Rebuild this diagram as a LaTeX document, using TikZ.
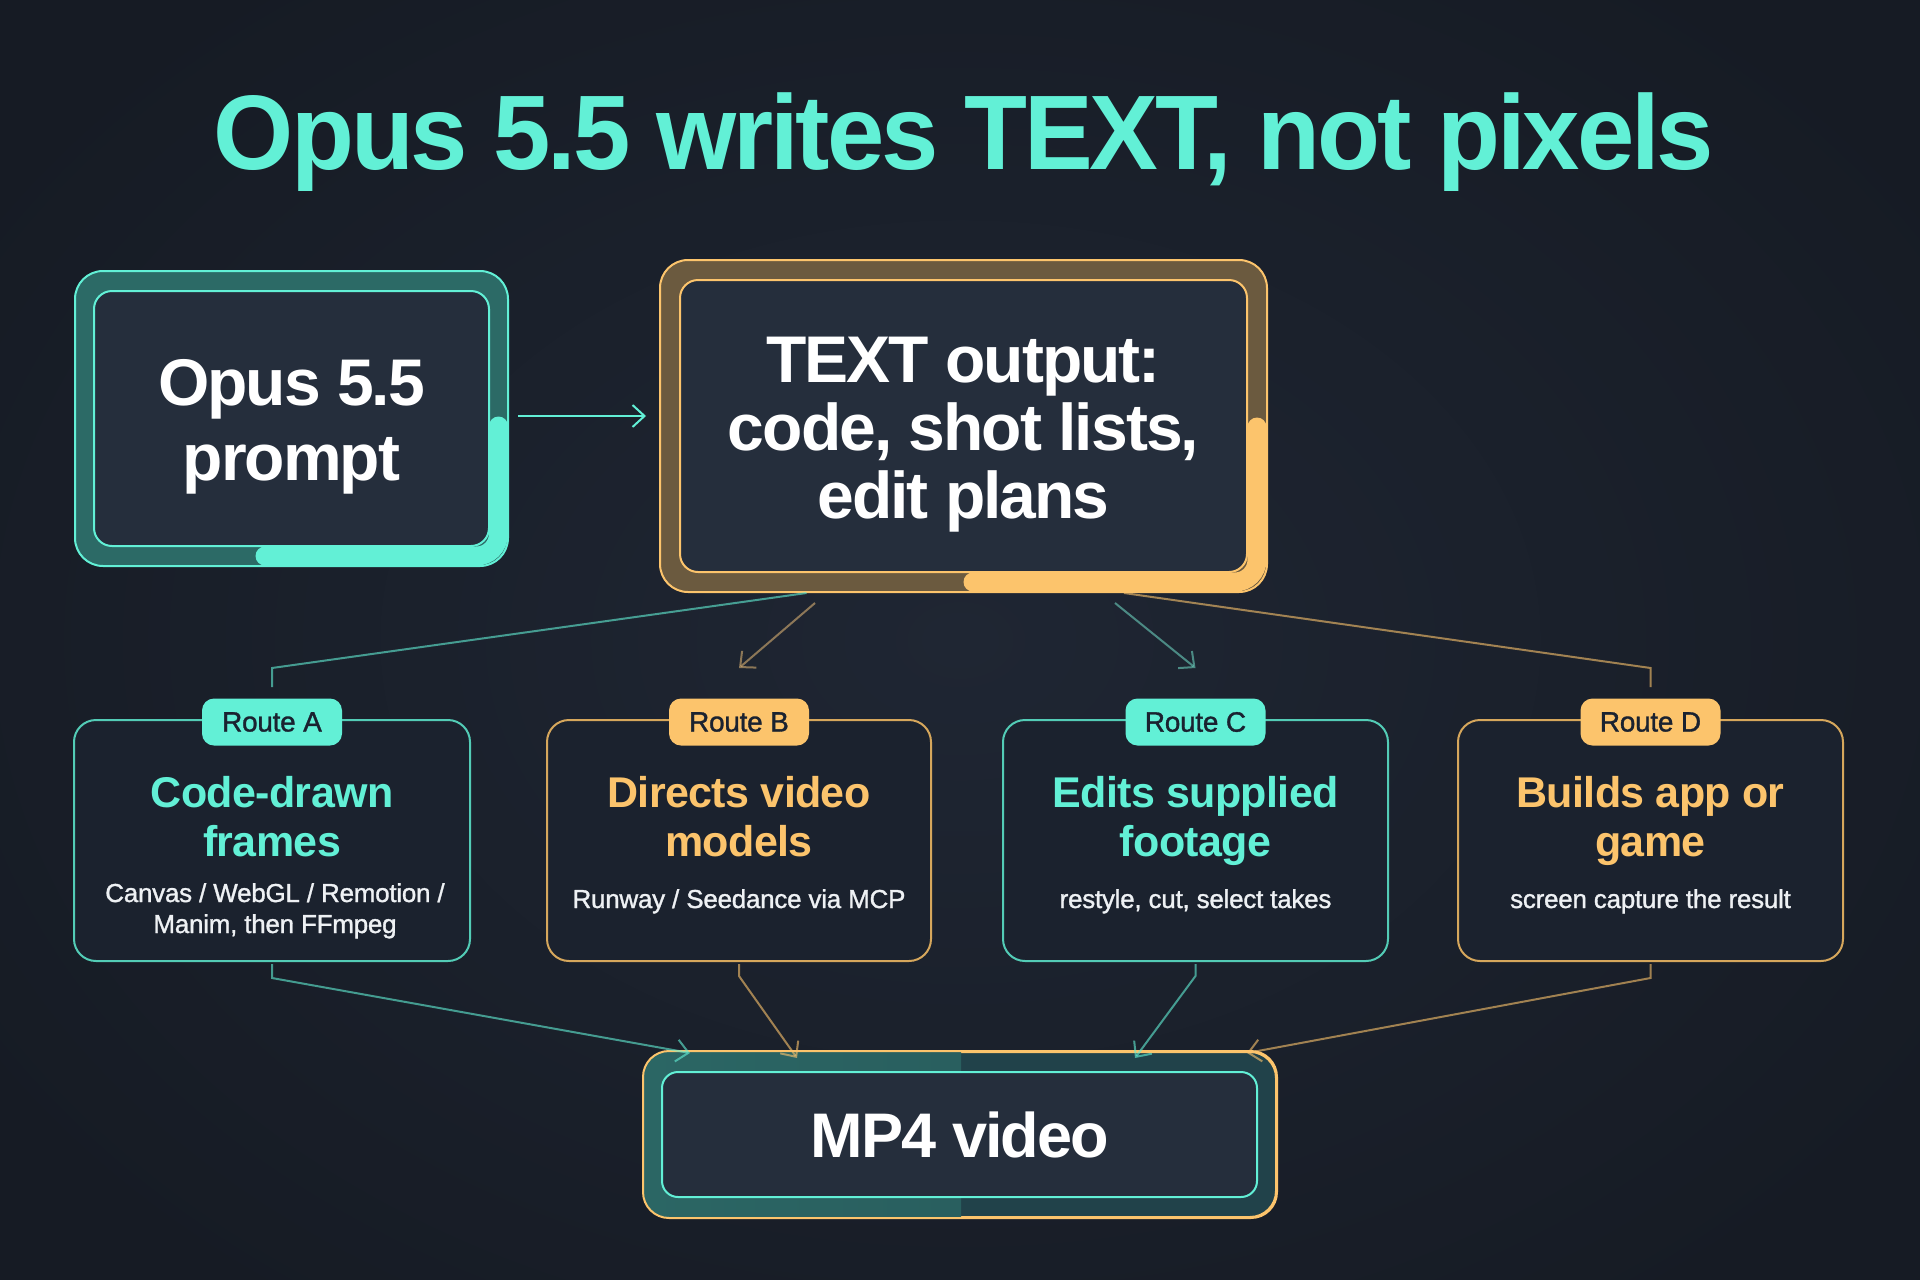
\documentclass[tikz,border=0pt]{standalone}
\usepackage{fontspec}
\usepackage{graphicx}
\setmainfont{Liberation Sans}
\newfontfamily\tightf{Liberation Sans}[LetterSpace=-3]
\newfontfamily\titlefam{Liberation Sans}[LetterSpace=-3]
\newfontfamily\headfam{Liberation Sans}[LetterSpace=-1.5]
\newfontfamily\medfam{Liberation Sans}[FakeBold=1.2,LetterSpace=-1]
\usetikzlibrary{arrows.meta,calc}
\definecolor{bgin}{HTML}{1F2633}
\definecolor{bgout}{HTML}{161B24}
\definecolor{tealc}{HTML}{62F0D6}
\definecolor{amberc}{HTML}{FCC46C}
\definecolor{tealband}{HTML}{2C6A66}
\definecolor{amberband}{HTML}{6B5A3F}
\definecolor{boxfill}{HTML}{252E3C}
\definecolor{routefill}{HTML}{1B222E}
\definecolor{tagtext}{HTML}{1A2230}
\definecolor{subc}{HTML}{EEF1F4}
\definecolor{mp4dark}{HTML}{21424A}
\definecolor{mp4light}{HTML}{2B6664}
\newcommand\titlefont{\titlefam\bfseries\fontsize{106}{110}\selectfont}
\newcommand\bigfont{\tightf\bfseries\fontsize{66}{70}\selectfont}
\newcommand\headfont{\headfam\bfseries\fontsize{43}{48}\selectfont}
\newcommand\subfont{\medfam\fontsize{26}{30}\selectfont}
\newcommand\tagfont{\medfam\fontsize{28}{30}\selectfont}
\tikzset{
  outerbox/.style={rounded corners=28pt, line width=2pt, inner sep=0pt},
  innerbox/.style={rounded corners=18pt, line width=2pt, fill=boxfill, inner sep=0pt},
  routebox/.style={rounded corners=22pt, line width=2pt, fill=routefill, minimum height=241pt, inner sep=0pt},
  tagbox/.style={rounded corners=12pt, minimum width=140pt, minimum height=47pt, inner sep=0pt, text=tagtext, font=\tagfont},
  bigtxt/.style={text=white, anchor=base, inner sep=0pt, font=\bigfont},
  headtxt/.style={anchor=base, inner sep=0pt, font=\headfont},
  subtxt/.style={anchor=base, inner sep=0pt, text=subc, font=\subfont},
  conn/.style={line width=2pt, draw=#1, draw opacity=0.6},
  arr/.style={-{Straight Barb[length=12pt,width=22pt,line width=2pt]}},
  progbar/.style={line width=19pt, line cap=round, rounded corners=22pt},
}
\begin{document}
\begin{tikzpicture}[x=1pt,y=-1pt]
\useasboundingbox (0,0) rectangle (1920,1280);
\shade[inner color=bgin, outer color=bgout] (-200,-200) rectangle (2120,1480);

% title
\node[anchor=base, inner sep=0pt, text=tealc] (title) at (964,169)
  {\resizebox{1500pt}{\height}{\titlefont Opus 5.5 writes TEXT, not pixels}};

% prompt box
\node[outerbox, draw=tealc, fill=tealband, minimum width=433pt, minimum height=295pt] (promptout) at (291.5,418.5) {};
\draw[progbar, tealc] (498.5,426) -- (498.5,556) -- (265,556);
\node[innerbox, draw=tealc, minimum width=395pt, minimum height=255pt] (promptin) at (291.5,418.5) {};
\node[bigtxt] (p1) at (291.5,405) {Opus 5.5};
\node[bigtxt] (p2) at (291.5,480) {prompt};

% text output box
\node[outerbox, draw=amberc, fill=amberband, minimum width=607pt, minimum height=332pt] (textout) at (963.5,426) {};
\draw[progbar, amberc] (1257,427) -- (1257,582) -- (973,582);
\node[innerbox, draw=amberc, minimum width=567pt, minimum height=292pt] (textin) at (963.5,426) {};
\node[bigtxt] (t1) at (963.5,382) {TEXT output:};
\node[bigtxt] (t2) at (963.5,450) {code, shot lists,};
\node[bigtxt] (t3) at (963.5,518) {edit plans};

% prompt -> text output
\draw[line width=2pt, tealc, arr] ($(promptout.east)+(9,-2.5)$) -- ($(textin.west)+(-33,-10)$);

% route boxes
\node[routebox, draw=tealc!85!black, minimum width=396pt] (routeA) at (272,840.5) {};
\node[routebox, draw=amberc!85!black, minimum width=384pt] (routeB) at (739,840.5) {};
\node[routebox, draw=tealc!85!black, minimum width=385pt] (routeC) at (1195.5,840.5) {};
\node[routebox, draw=amberc!85!black, minimum width=385pt] (routeD) at (1650.5,840.5) {};

\node[tagbox, fill=tealc] (tagA) at (272,722) {Route A};
\node[tagbox, fill=amberc] (tagB) at (739,722) {Route B};
\node[tagbox, fill=tealc] (tagC) at (1195.5,722) {Route C};
\node[tagbox, fill=amberc] (tagD) at (1650.5,722) {Route D};

\node[headtxt, text=tealc] (a1) at (272,807) {Code-drawn};
\node[headtxt, text=tealc] (a2) at (272,856) {frames};
\node[subtxt] (a3) at (275,902) {Canvas / WebGL / Remotion /};
\node[subtxt] (a4) at (275,933) {Manim, then FFmpeg};

\node[headtxt, text=amberc] (b1) at (739,807) {Directs video};
\node[headtxt, text=amberc] (b2) at (739,856) {models};
\node[subtxt] (b3) at (739,908) {Runway / Seedance via MCP};

\node[headtxt, text=tealc] (c1) at (1195.5,807) {Edits supplied};
\node[headtxt, text=tealc] (c2) at (1195.5,856) {footage};
\node[subtxt] (c3) at (1195.5,908) {restyle, cut, select takes};

\node[headtxt, text=amberc] (d1) at (1650.5,807) {Builds app or};
\node[headtxt, text=amberc] (d2) at (1650.5,856) {game};
\node[subtxt] (d3) at (1650.5,908) {screen capture the result};

% mp4 box
\node[outerbox, rounded corners=26pt, draw=amberc, fill=mp4dark, minimum width=632pt, minimum height=165pt] (mp4out) at (960,1134.5) {};
\begin{scope}
  \clip[rounded corners=26pt] (mp4out.south west) rectangle (mp4out.north east);
  \shade[left color=mp4light, right color=mp4light!80!mp4dark] (644,1040) rectangle (961,1230);
\end{scope}
\draw[amberc, line width=2pt, rounded corners=26pt] (mp4out.south west) rectangle (mp4out.north east);
\node[innerbox, rounded corners=16pt, draw=tealc, minimum width=595pt, minimum height=125pt] (mp4in) at (959.5,1134.5) {};
\node[bigtxt, font=\tightf\bfseries\fontsize{63}{66}\selectfont] (m1) at (960,1157) {MP4 video};

% connectors: text output -> routes
\draw[conn=tealc] ($(textout.south)+(-157,0)$) -- ($(routeA.north)+(0,-51)$) -- ($(routeA.north)+(0,-32)$);
\draw[conn=amberc!70!gray, arr] ($(textout.south)+(-148.5,10)$) -- ($(routeB.north)+(0,-51)$);
\draw[conn=tealc!70!gray, arr] ($(textout.south)+(151.5,10)$) -- ($(routeC.north)+(0,-51)$);
\draw[conn=amberc] ($(textout.south)+(160.5,0)$) -- ($(routeD.north)+(0,-51)$) -- ($(routeD.north)+(0,-32)$);

% connectors: routes -> mp4
\draw[conn=tealc, arr] ($(routeA.south)+(0,2)$) -- ($(routeA.south)+(0,16)$) -- ($(mp4out.north)+(-270,2)$);
\draw[conn=amberc, arr] ($(routeB.south)+(0,2)$) -- ($(routeB.south)+(0,14)$) -- ($(mp4out.north)+(-163,7)$);
\draw[conn=tealc, arr] ($(routeC.south)+(0,2)$) -- ($(routeC.south)+(0,14)$) -- ($(mp4out.north)+(175,7)$);
\draw[conn=amberc, arr] ($(routeD.south)+(0,2)$) -- ($(routeD.south)+(0,16)$) -- ($(mp4out.north)+(287,2)$);
\end{tikzpicture}
\end{document}
